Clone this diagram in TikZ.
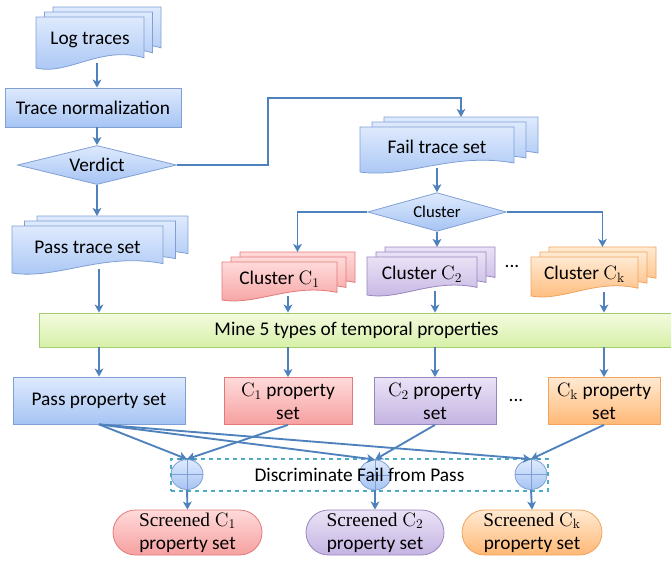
\documentclass[tikz,border=0pt]{standalone}
\usepackage{fontspec}
\setsansfont{Carlito}
\newfontfamily\scrfont{Liberation Serif}
\usetikzlibrary{arrows.meta,shapes.geometric,shapes.misc,backgrounds,calc}

\definecolor{arrowblue}{RGB}{79,129,189}
\definecolor{bluetop}{RGB}{222,234,253}
\definecolor{bluebot}{RGB}{166,196,244}
\definecolor{blueline}{RGB}{128,160,212}
\definecolor{redtop}{RGB}{255,218,218}
\definecolor{redbot}{RGB}{246,160,160}
\definecolor{redline}{RGB}{226,122,122}
\definecolor{purtop}{RGB}{234,226,246}
\definecolor{purbot}{RGB}{196,180,226}
\definecolor{purline}{RGB}{152,134,190}
\definecolor{ortop}{RGB}{255,234,210}
\definecolor{orbot}{RGB}{255,184,118}
\definecolor{orline}{RGB}{240,164,96}
\definecolor{grtop}{RGB}{244,251,224}
\definecolor{grbot}{RGB}{214,240,168}
\definecolor{grline}{RGB}{164,204,112}
\definecolor{dashline}{RGB}{75,172,198}

\tikzset{
  bluef/.style={top color=bluetop, bottom color=bluebot, draw=blueline, line width=0.6pt},
  redf/.style={top color=redtop, bottom color=redbot, draw=redline, line width=0.6pt},
  purf/.style={top color=purtop, bottom color=purbot, draw=purline, line width=0.6pt},
  orf/.style={top color=ortop, bottom color=orbot, draw=orline, line width=0.6pt},
  grf/.style={top color=grtop, bottom color=grbot, draw=grline, line width=0.6pt},
  txt/.style={font=\sffamily\fontsize{14.5}{17}\selectfont, align=center, inner sep=0pt},
  box/.style={txt, rectangle, minimum height=35.25pt},
  dia/.style={txt, diamond, aspect=4, bluef},
  oplus/.style={ellipse, bluef, minimum width=24pt, minimum height=22.5pt, inner sep=0pt,
    path picture={\draw[blueline, line width=0.6pt]
      (path picture bounding box.north) -- (path picture bounding box.south)
      (path picture bounding box.west) -- (path picture bounding box.east);}},
  screened/.style={txt, rounded rectangle, minimum height=33.75pt, font=\sffamily\fontsize{14.5}{17.5}\selectfont},
  arr/.style={-{Stealth[length=6pt, width=6.5pt, inset=1.5pt]}, draw=arrowblue, line width=1.4pt}
}

\newcommand{\docstack}[8]{%
  \begin{scope}[on background layer]
    \foreach \k in {2,1,0}
      \draw[#7, shift={(\k*#6,-\k*5)}] (#2,#3) -- (#4,#3) -- (#4,{#5-0.2*(#5-#3)})
        .. controls ({#2+0.6*(#4-#2)},{#5-0.45*(#5-#3)}) and ({#2+0.3*(#4-#2)},{#5+0.15*(#5-#3)}) .. (#2,#5) -- cycle;
  \end{scope}
  \node[txt, minimum width={(#4-#2)*0.75pt}, minimum height={0.9*(#5-#3)*0.75pt}] (#1) at ({(#2+#4)/2},{#3+0.45*(#5-#3)}) {#8};
  \coordinate (#1b) at ({(#2+#4)/2+2*#6},{#3-10});
}

\begin{document}
\begin{tikzpicture}[x=0.75pt, y=-0.75pt]
  \useasboundingbox (0,0) rectangle (671,562);

  \docstack{lg}{36}{17}{144}{68}{8.5}{bluef}{Log traces}
  \node[box, bluef, minimum width=132pt, minimum height=29.25pt] (tn) at (93,107.5) {Trace normalization};
  \node[dia, minimum width=119.25pt, minimum height=29.25pt] (v) at (97,165) {Verdict};
  \docstack{ps}{12}{226}{163}{273}{12.5}{bluef}{Pass trace set}
  \docstack{f}{360}{127}{514}{172}{12}{bluef}{Fail trace set}
  \node[dia, minimum width=104pt, minimum height=29pt, font=\sffamily\fontsize{12.5}{15}\selectfont] (c) at (437,212) {Cluster};
  \docstack{c1}{222}{262}{337}{300}{9}{redf}{Cluster \(\mathrm{C}_1\)}
  \docstack{c2}{367}{257}{477}{295}{9}{purf}{Cluster \(\mathrm{C}_2\)}
  \docstack{ck}{531}{257}{638}{296}{9}{orf}{Cluster \(\mathrm{C}_\mathrm{k}\)}
  \node[txt] (dd) at (512,266) {...};

  \node[box, grf, minimum width=475pt, minimum height=25.5pt] (m) at (356.5,330) {Mine 5 types of temporal properties};

  \node[box, bluef, minimum width=129pt] (pp) at (99,400.5) {Pass property set};
  \node[box, redf, minimum width=96pt] (p1) at (288,401) {\(\mathrm{C}_1\) property\\set};
  \node[box, purf, minimum width=91.5pt] (p2) at (435,401) {\(\mathrm{C}_2\) property\\set};
  \node[txt] (de) at (516,400) {...};
  \node[box, orf, minimum width=84pt] (pk) at (604,401) {\(\mathrm{C}_\mathrm{k}\) property\\set};

  \node[oplus] (x1) at (187,474.5) {};
  \node[oplus] (x2) at (375,475) {};
  \node[oplus] (xk) at (531,474.5) {};
  \node[txt, draw=dashline, dashed, line width=1pt, minimum width=282.75pt, minimum height=24pt] (d) at (359.5,475) {Discriminate Fail from Pass};

  \node[screened, redf, minimum width=111.75pt] (s1) at (187.5,532.5) {{\scrfont Screened \(\mathrm{C}_1\)}\\property set};
  \node[screened, purf, minimum width=103.5pt] (s2) at (375,532.5) {{\scrfont Screened \(\mathrm{C}_2\)}\\property set};
  \node[screened, orf, minimum width=105pt] (sk) at (532,532.5) {{\scrfont Screened \(\mathrm{C}_\mathrm{k}\)}\\property set};

  \coordinate (vr) at (268,98);
  \draw[arr] (lg.south -| v.north) -- (tn.north -| v.north);
  \draw[arr] (tn.south -| v.north) -- (v.north);
  \draw[arr] (v.south) -- (v.south |- psb);
  \draw[arr] (v.east) -| (vr) -| (fb);
  \draw[arr] (f.south) -- (c.north);
  \draw[arr] (c.west) -| (c1b);
  \draw[arr] (c.south) -- (c.south |- c2b);
  \draw[arr] (c.east) -| (ckb);
  \draw[arr] (ps.south -| pp.north) -- (pp.north |- m.north);
  \draw[arr] (c1.south -| p1.north) -- (p1.north |- m.north);
  \draw[arr] (c2.south -| p2.north) -- (p2.north |- m.north);
  \draw[arr] (ck.south -| pk.north) -- (pk.north |- m.north);
  \draw[arr] (pp.north |- m.south) -- (pp.north);
  \draw[arr] (p1.north |- m.south) -- (p1.north);
  \draw[arr] (p2.north |- m.south) -- (p2.north);
  \draw[arr] (pk.north |- m.south) -- (pk.north);
  \draw[arr] (pp.south) -- (x1.north);
  \draw[arr] (pp.south) -- (x2.north);
  \draw[arr] (pp.south) -- (xk.north);
  \draw[arr] (p1.south) -- (x1.north);
  \draw[arr] (p2.south) -- (x2.north);
  \draw[arr] (pk.south) -- (xk.north);
  \draw[arr] (x1.south) -- (s1.north);
  \draw[arr] (x2.south) -- (s2.north);
  \draw[arr] (xk.south) -- (sk.north);
\end{tikzpicture}
\end{document}
